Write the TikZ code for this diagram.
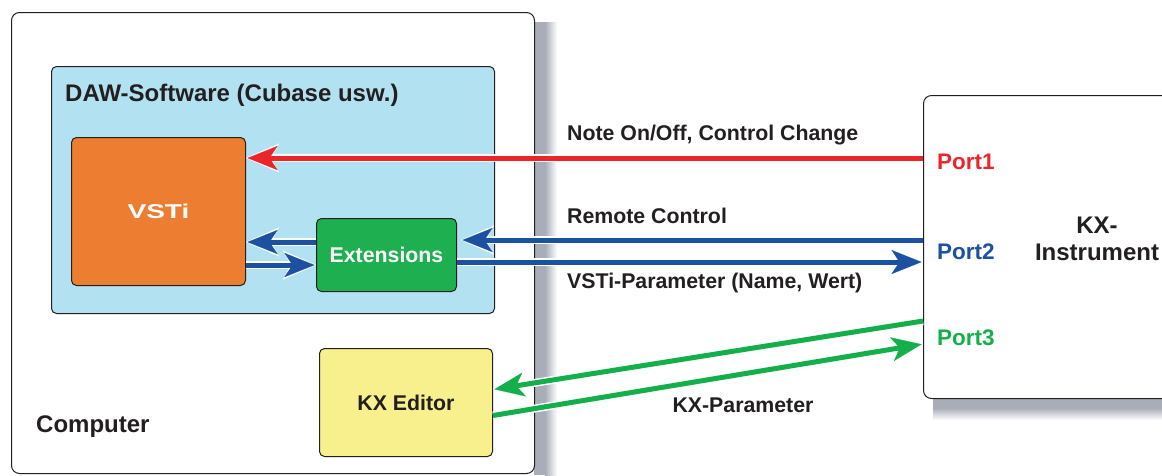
\documentclass[tikz,border=0pt]{standalone}
\usepackage{fontspec}
\setmainfont{Liberation Sans}
\usetikzlibrary{positioning,arrows.meta}
\definecolor{dawblue}{RGB}{178,225,242}
\definecolor{vstorange}{RGB}{236,125,49}
\definecolor{extgreen}{RGB}{30,176,80}
\definecolor{edyellow}{RGB}{247,240,141}
\definecolor{midired}{RGB}{234,38,43}
\definecolor{midiblue}{RGB}{28,80,160}
\definecolor{midigreen}{RGB}{20,174,75}
\definecolor{ink}{RGB}{35,31,32}
\definecolor{shadowgray}{RGB}{168,173,184}
\tikzstyle{box} = [draw=ink, line width=1pt, rounded corners=5pt, inner sep=0pt, anchor=north west]
\tikzstyle{big} = [font=\bfseries\fontsize{24}{27}\selectfont, text=ink, inner sep=0pt]
\tikzstyle{small} = [font=\bfseries\fontsize{21.3}{24}\selectfont, text=ink, inner sep=0pt]
\tikzstyle{port} = [font=\bfseries\fontsize{22.5}{25}\selectfont, inner sep=0pt, anchor=west]
\tikzstyle{link} = [line width=5pt, shorten >=1.5pt, -{Stealth[length=30pt,width=24pt,inset=8pt,line width=0.1pt]},
  preaction={draw=white, line width=8pt, shorten >=0pt, -{Stealth[length=33pt,width=29pt,inset=8pt,line width=0.1pt]}}]

\begin{document}
\begin{tikzpicture}[x=1pt,y=-1pt]
			\useasboundingbox (0,0) rectangle (1162,475);
			% shadows
			\fill[shadowgray] (534,22) rectangle (545,475);
			\shade[left color=shadowgray, right color=white] (545,22) rectangle (557,475);
			\fill[shadowgray] (933,398) rectangle (1162,408);
			\shade[top color=shadowgray, bottom color=white] (933,408) rectangle (1162,420);
			\node[box, fill=white, rounded corners=8pt, minimum width=523pt, minimum height=461pt] (pc) at (11,12) {};
			\node[box, fill=dawblue, minimum width=443pt, minimum height=247pt] (daw) at (51,66) {};
			\node[big, anchor=west] (dawlbl) at (65,95) {DAW-Software (Cubase usw.)};
			\node[box, fill=vstorange, minimum width=174pt, minimum height=148pt, text=white,
			  font=\bfseries\fontsize{20}{24}\selectfont\addfontfeature{FakeStretch=1.4}] (vsti) at (71,137) {VSTi};
			\node[box, fill=extgreen, minimum width=140pt, minimum height=73pt, small, text=white] (ext) at (316,218) {Extensions};
			\node[box, fill=edyellow, minimum width=173pt, minimum height=108pt, small] (editor) at (319,348) {KX Editor};
			\node[big, anchor=west] (pclbl) at (36,427) {Computer};
			\node[box, fill=white, rounded corners=8pt, minimum width=260pt, minimum height=303pt] (kx) at (923,95) {};
			\node[big, align=center] (kxlbl) at (1097,239) {KX-\\Instrument};
			\node[port, text=midired] (port1) at (937,162) {Port1};
			\node[port, text=midiblue] (port2) at (937,252) {Port2};
			\node[port, text=midigreen] (port3) at (937,338) {Port3};
			\coordinate (r1) at (923,158);
			\coordinate (b1) at (923,240);
			\coordinate (b2) at (923,262);
			\coordinate (g1) at (923,321);
			\coordinate (g2) at (923,344);
			% connectors
			\draw[link, midired] (r1) -- (vsti.east |- r1);
			\draw[link, midiblue] (b1) -- ([xshift=4pt]ext.east |- b1);
			\draw[link, midiblue] (ext.east |- b2) -- (b2);
			\draw[link, midiblue] ([yshift=13pt]ext.west) -- ([yshift=13pt]ext.west -| vsti.east);
			\draw[link, midiblue] ([yshift=-10pt]ext.west -| vsti.east) -- ([yshift=-10pt]ext.west);
			\draw[link, midigreen] (g1) -- ([yshift=13pt]editor.east);
			\draw[link, midigreen] ([yshift=-13pt]editor.east) -- (g2);
			\node[small, anchor=west] (lnote) at (567,135) {Note On/Off, Control Change};
			\node[small, anchor=west] (lremote) at (567,216) {Remote Control};
			\node[small, anchor=west] (lparam) at (567,283) {VSTi-Parameter (Name, Wert)};
			\node[small] (lkxpar) at (743,405) {KX-Parameter};
		\end{tikzpicture}
\end{document}
